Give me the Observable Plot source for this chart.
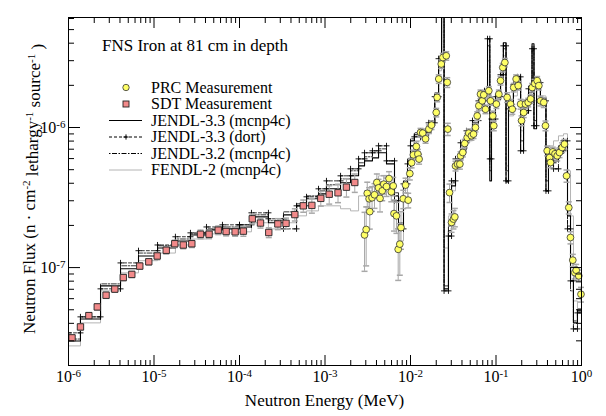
<!DOCTYPE html>
<html><head><meta charset="utf-8">
<script src="https://cdn.jsdelivr.net/npm/d3@7"></script>
<script src="https://cdn.jsdelivr.net/npm/@observablehq/plot@0.6"></script>
<style>
body{margin:0;background:#fff;}
#wrap{position:relative;width:606px;height:416px;}
</style></head><body><div id="wrap"></div><script>
// ---- tick values / labels ----
const xMajor = [1e-6, 1e-5, 1e-4, 1e-3, 1e-2, 1e-1, 1];
const xTickLabels = ["10^-6","10^-5","10^-4","10^-3","10^-2","10^-1","10^0"];
const yMajor = [1e-7, 1e-6];
const yTickLabels = ["10^-7","10^-6"];

// ---- SDT measurement ----
const sdtEnergy = [1.10e-6,1.38e-6,1.73e-6,2.17e-6,2.75e-6,3.48e-6,4.37e-6,5.50e-6,6.82e-6,8.69e-6,
1.09e-5,1.39e-5,1.75e-5,2.20e-5,2.77e-5,3.50e-5,4.41e-5,5.64e-5,6.98e-5,8.89e-5,
1.11e-4,1.41e-4,1.76e-4,2.20e-4,2.81e-4,3.50e-4,4.44e-4,5.57e-4,7.02e-4,8.93e-4,
1.12e-3,1.42e-3,1.78e-3,2.23e-3];
const sdtFlux = [3.15e-8,3.77e-8,4.54e-8,5.24e-8,6.35e-8,7.02e-8,8.49e-8,8.94e-8,1.025e-7,1.10e-7,
1.21e-7,1.33e-7,1.48e-7,1.45e-7,1.48e-7,1.73e-7,1.73e-7,1.85e-7,1.81e-7,1.80e-7,
1.82e-7,2.23e-7,2.08e-7,1.78e-7,2.05e-7,2.07e-7,2.39e-7,2.76e-7,2.78e-7,3.12e-7,
3.34e-7,3.42e-7,3.75e-7,4.05e-7];
const sdtErr = [0.05,0.05,0.05,0.05,0.05,0.05,0.05,0.05,0.05,0.05,
0.06,0.06,0.06,0.06,0.06,0.07,0.07,0.07,0.07,0.07,
0.08,0.08,0.08,0.08,0.09,0.09,0.1,0.1,0.12,0.12,
0.15,0.15,0.15,0.15];

// ---- PRC measurement ----
const prcEnergy = [2.90e-3,3.03e-3,3.12e-3,3.28e-3,3.34e-3,3.55e-3,3.79e-3,4.04e-3,4.23e-3,4.40e-3,
4.67e-3,4.87e-3,5.24e-3,5.61e-3,5.96e-3,6.28e-3,6.41e-3,6.85e-3,7.18e-3,7.50e-3,
7.74e-3,8.23e-3,8.75e-3,9.40e-3,9.82e-3,1.03e-2,1.08e-2,1.17e-2,1.22e-2,1.26e-2,
1.31e-2,1.39e-2,1.50e-2,1.64e-2,1.76e-2,2.00e-2,2.05e-2,2.14e-2,2.29e-2,2.39e-2,
2.62e-2,2.69e-2,2.73e-2,2.86e-2,3.02e-2,3.18e-2,3.30e-2,3.36e-2,3.55e-2,3.78e-2,
3.85e-2,4.09e-2,4.31e-2,4.60e-2,4.81e-2,5.16e-2,5.46e-2,5.75e-2,6.03e-2,6.30e-2,
6.59e-2,6.90e-2,7.19e-2,7.53e-2,8.24e-2,8.63e-2,9.18e-2,9.42e-2,0.101,0.108,
0.113,0.120,0.127,0.135,0.148,0.155,0.161,0.172,0.182,0.194,
0.199,0.211,0.221,0.238,0.254,0.265,0.284,0.303,0.317,0.331,
0.362,0.379,0.397,0.423,0.434,0.461,0.490,0.520,0.553,0.594,
0.632,0.668,0.710,0.743,0.791,0.835,0.867,0.929,0.986];
const prcFlux = [1.71e-7,1.87e-7,3.39e-7,3.10e-7,2.51e-7,3.15e-7,3.31e-7,4.05e-7,3.71e-7,3.12e-7,
3.53e-7,3.94e-7,3.79e-7,4.32e-7,3.47e-7,3.83e-7,2.43e-7,2.34e-7,1.35e-7,1.47e-7,
1.93e-7,3.10e-7,3.88e-7,3.03e-7,4.69e-7,5.60e-7,6.38e-7,7.32e-7,6.46e-7,5.95e-7,
9.21e-7,9.12e-7,8.30e-7,9.74e-7,1.04e-6,1.28e-6,1.64e-6,2.22e-6,2.84e-6,3.16e-6,
3.25e-6,2.10e-6,9.74e-7,3.43e-7,2.10e-7,2.22e-7,2.30e-7,5.32e-7,5.48e-7,5.48e-7,
6.28e-7,6.63e-7,7.69e-7,8.48e-7,9.12e-7,8.73e-7,8.97e-7,1.0e-6,1.21e-6,1.43e-6,
1.73e-6,1.55e-6,1.71e-6,1.35e-6,1.83e-6,1.55e-6,1.21e-6,1.03e-6,1.47e-6,1.73e-6,
2.16e-6,2.68e-6,2.91e-6,1.64e-6,1.47e-6,1.35e-6,1.93e-6,2.22e-6,1.99e-6,1.47e-6,
1.12e-6,1.28e-6,1.47e-6,1.51e-6,1.60e-6,1.93e-6,2.06e-6,2.16e-6,1.99e-6,1.55e-6,
1.51e-6,1.03e-6,6.82e-7,6.10e-7,5.62e-7,6.70e-7,6.49e-7,6.28e-7,6.63e-7,7.20e-7,
7.61e-7,4.52e-7,2.68e-7,1.64e-7,1.13e-7,9.21e-8,9.58e-8,8.73e-8,6.45e-8];
const prcErr = [0.45,0.45,0.2,0.2,0.25,0.2,0.2,0.15,0.15,0.2,
0.15,0.15,0.15,0.12,0.15,0.15,0.25,0.25,0.4,0.4,
0.3,0.15,0.12,0.12,0.1,0.08,0.08,0.08,0.08,0.08,
0.07,0.07,0.07,0.07,0.07,0.07,0.07,0.07,0.07,0.07,
0.07,0.08,0.1,0.15,0.15,0.15,0.15,0.08,0.08,0.08,
0.07,0.07,0.07,0.07,0.07,0.07,0.07,0.07,0.07,0.07,
0.07,0.07,0.07,0.07,0.07,0.07,0.08,0.08,0.07,0.07,
0.07,0.07,0.07,0.08,0.08,0.08,0.07,0.07,0.07,0.08,
0.08,0.08,0.07,0.07,0.07,0.07,0.07,0.07,0.07,0.08,
0.08,0.08,0.08,0.08,0.08,0.08,0.08,0.08,0.08,0.08,
0.08,0.1,0.1,0.1,0.1,0.1,0.1,0.1,0.12];

// ---- calculations: group edges (MeV) and group fluxes ----
const binEdges = [1.0e-6,1.38e-6,2.37e-6,4.06e-6,6.59e-6,1.10e-5,1.78e-5,2.67e-5,4.11e-5,6.32e-5,
1.0e-4,1.38e-4,2.18e-4,3.27e-4,4.65e-4,6.08e-4,8.40e-4,1.04e-3,1.52e-3,1.99e-3,
2.47e-3,2.90e-3,3.59e-3,4.23e-3,5.24e-3,6.50e-3,7.24e-3,8.28e-3,9.23e-3,1.0e-2,
1.11e-2,1.31e-2,1.63e-2,1.92e-2,2.13e-2,2.31e-2,2.47e-2,2.78e-2,3.02e-2,3.36e-2,
3.85e-2,4.52e-2,5.31e-2,6.24e-2,7.33e-2,7.96e-2,8.46e-2,8.86e-2,9.86e-2,0.113,
0.122,0.131,0.140,0.160,0.178,0.194,0.210,0.240,0.264,0.278,
0.298,0.331,0.384,0.411,0.471,0.538,0.616,0.686,0.744,0.805,
0.897,1.0];
const jendl33Mcnp = [2.99e-8,4.30e-8,7.40e-8,9.8e-8,1.21e-7,1.38e-7,1.55e-7,1.71e-7,1.86e-7,1.89e-7,
1.95e-7,2.30e-7,2.09e-7,2.38e-7,2.76e-7,3.10e-7,3.36e-7,3.65e-7,4.03e-7,4.52e-7,
5.32e-7,5.78e-7,6.07e-7,6.60e-7,5.50e-7,3.25e-7,1.95e-7,3.96e-7,5.78e-7,8.03e-7,
8.87e-7,9.17e-7,1.08e-6,1.68e-6,2.90e-6,1.12e-5,7.05e-8,1.83e-7,3.83e-7,5.60e-7,
7.04e-7,8.72e-7,1.08e-6,1.45e-6,1.77e-6,4.30e-6,4.16e-7,1.12e-6,1.60e-6,2.34e-6,
4.03e-6,4.09e-7,1.36e-6,1.89e-6,2.23e-6,6.82e-7,1.27e-6,1.77e-6,3.96e-6,9.79e-7,
2.09e-6,1.55e-6,3.53e-7,5.97e-7,5.78e-7,6.82e-7,7.65e-7,2.34e-7,8.04e-8,4.03e-8,
4.91e-8];
const jendl33Dort = [3.42e-8,4.45e-8,7.05e-8,1.08e-7,1.32e-7,1.45e-7,1.66e-7,1.77e-7,1.95e-7,2.02e-7,
2.02e-7,2.46e-7,2.23e-7,1.89e-7,2.76e-7,3.20e-7,3.65e-7,4.16e-7,4.52e-7,5.07e-7,
5.97e-7,6.60e-7,6.82e-7,7.40e-7,5.78e-7,3.00e-7,1.89e-7,3.96e-7,5.50e-7,7.40e-7,
8.58e-7,9.17e-7,1.08e-6,1.66e-6,3.10e-6,1.32e-5,6.82e-8,1.68e-7,4.16e-7,5.97e-7,
7.78e-7,9.47e-7,1.12e-6,1.55e-6,1.83e-6,4.30e-6,5.97e-7,1.15e-6,1.66e-6,2.38e-6,
3.83e-6,4.16e-7,1.36e-6,2.02e-6,2.30e-6,6.82e-7,1.32e-6,1.89e-6,3.65e-6,1.03e-6,
2.09e-6,1.55e-6,3.53e-7,5.60e-7,5.07e-7,6.82e-7,8.03e-7,1.89e-7,8.04e-8,3.65e-8,
4.75e-8];
const jendl32Mcnp = [3.09e-8,4.45e-8,7.65e-8,1.03e-7,1.27e-7,1.43e-7,1.60e-7,1.74e-7,1.89e-7,1.95e-7,
2.02e-7,2.38e-7,2.16e-7,2.50e-7,2.85e-7,3.25e-7,3.53e-7,3.90e-7,4.30e-7,4.91e-7,
5.60e-7,6.18e-7,6.60e-7,7.04e-7,5.78e-7,3.42e-7,2.09e-7,4.16e-7,5.97e-7,8.30e-7,
9.17e-7,9.47e-7,1.12e-6,1.77e-6,2.99e-6,1.21e-5,7.40e-8,1.98e-7,4.03e-7,5.78e-7,
7.40e-7,9.17e-7,1.12e-6,1.50e-6,1.83e-6,3.83e-6,4.91e-7,1.21e-6,1.68e-6,2.46e-6,
3.65e-6,4.91e-7,1.43e-6,1.99e-6,2.34e-6,8.03e-7,1.36e-6,1.89e-6,3.53e-6,1.12e-6,
2.16e-6,1.60e-6,4.16e-7,6.28e-7,6.28e-7,7.40e-7,8.03e-7,1.98e-7,6.82e-8,4.16e-8,
5.07e-8];
const fendl2Mcnp = [2.76e-8,4.03e-8,6.82e-8,9.17e-8,1.12e-7,1.27e-7,1.45e-7,1.60e-7,1.74e-7,1.77e-7,
1.80e-7,2.09e-7,1.89e-7,2.09e-7,2.34e-7,2.54e-7,2.76e-7,2.76e-7,2.63e-7,2.54e-7,
3.25e-7,3.53e-7,3.83e-7,4.52e-7,3.83e-7,2.34e-7,1.55e-7,3.00e-7,4.91e-7,6.82e-7,
8.03e-7,8.30e-7,1.03e-6,1.55e-6,2.54e-6,9.47e-6,1.38e-7,2.34e-7,3.53e-7,5.32e-7,
6.60e-7,8.03e-7,1.03e-6,1.32e-6,1.60e-6,2.99e-6,8.03e-7,1.15e-6,1.55e-6,2.16e-6,
3.25e-6,5.32e-7,1.21e-6,1.68e-6,1.99e-6,9.47e-7,1.32e-6,1.83e-6,2.54e-6,1.55e-6,
1.99e-6,1.68e-6,6.82e-7,7.40e-7,8.03e-7,8.72e-7,9.02e-7,4.91e-7,2.34e-7,5.78e-8,
4.91e-8];

// ---- build tables ----
function steps(vals){
  const pts = [];
  vals.forEach((v,i) => { pts.push({E: binEdges[i], F: v}); pts.push({E: binEdges[i+1], F: v}); });
  return pts;
}
const sdt = sdtEnergy.map((E,i) => ({E, F: sdtFlux[i], lo: sdtFlux[i]*(1-sdtErr[i]), hi: sdtFlux[i]*(1+sdtErr[i])}));
const prc = prcEnergy.map((E,i) => ({E, F: prcFlux[i], lo: prcFlux[i]*(1-prcErr[i]), hi: prcFlux[i]*(1+prcErr[i])}));
const sFendl = steps(fendl2Mcnp), s32 = steps(jendl32Mcnp), sDort = steps(jendl33Dort), s33 = steps(jendl33Mcnp);

const xMinor = [], yMinor = [];
for (let e = -6; e < 0; e++) for (let m = 2; m <= 9; m++) xMinor.push(m * Math.pow(10, e));
for (let m = 2; m <= 9; m++) yMinor.push(m * 1e-8);
for (let m = 2; m <= 9; m++) yMinor.push(m * 1e-7);
for (let m = 2; m <= 6; m++) yMinor.push(m * 1e-6);

const cap = {draw(ctx, size){ const w = Math.sqrt(size/Math.PI); ctx.moveTo(-w,0); ctx.lineTo(w,0); }};
const errGray = "#a8a8a8";
const lbl = (arr, labels) => d => labels[arr.indexOf(d)];

const plot = Plot.plot({
  width: 606, height: 416,
  marginLeft: 68, marginRight: 25, marginTop: 17, marginBottom: 51,
  style: {fontFamily: "'Liberation Serif', 'Times New Roman', serif", fontSize: "16px", color: "#000", background: "#fff", overflow: "visible"},
  x: {type: "log", domain: [1e-6, 1]},
  y: {type: "log", domain: [2e-8, 6.1e-6]},
  marks: [
    Plot.line(sFendl, {x: "E", y: "F", stroke: "#b4b4b4", strokeWidth: 1, clip: true}),
    Plot.line(s32, {x: "E", y: "F", stroke: "#000", strokeWidth: 0.8, strokeDasharray: "1.5,1.5,5,1.5", clip: true}),
    Plot.line(sDort, {x: "E", y: "F", stroke: "#000", strokeWidth: 0.8, strokeDasharray: "3,2", clip: true}),
    Plot.dot(sDort, {x: "E", y: "F", symbol: "plus", r: 2.1, stroke: "#000", strokeWidth: 0.9, clip: true}),
    Plot.line(s33, {x: "E", y: "F", stroke: "#000", strokeWidth: 1.1, clip: true}),
    // error bars
    Plot.ruleX(sdt, {x: "E", y1: "lo", y2: "hi", stroke: errGray, strokeWidth: 1}),
    Plot.dot(sdt, {x: "E", y: "lo", symbol: cap, r: 3, stroke: errGray}),
    Plot.dot(sdt, {x: "E", y: "hi", symbol: cap, r: 3, stroke: errGray}),
    Plot.ruleX(prc, {x: "E", y1: "lo", y2: "hi", stroke: errGray, strokeWidth: 1}),
    Plot.dot(prc, {x: "E", y: "lo", symbol: cap, r: 3, stroke: errGray}),
    Plot.dot(prc, {x: "E", y: "hi", symbol: cap, r: 3, stroke: errGray}),
    // measurements
    Plot.dot(sdt, {x: "E", y: "F", symbol: "square", r: 3.6, fill: "#f28a8a", stroke: "#222", strokeWidth: 0.9}),
    Plot.dot(prc, {x: "E", y: "F", symbol: "circle", r: 3.4, fill: "#ffff66", stroke: "#333", strokeWidth: 0.8}),
    // ticks (inward) on four sides
    Plot.axisX(xMajor, {anchor: "bottom", tickSize: -10, tickFormat: () => "", label: null}),
    Plot.axisX(xMinor, {anchor: "bottom", tickSize: -5, tickFormat: () => "", label: null}),
    Plot.axisX(xMajor, {anchor: "top", tickSize: -10, tickFormat: () => "", label: null}),
    Plot.axisX(xMinor, {anchor: "top", tickSize: -5, tickFormat: () => "", label: null}),
    Plot.axisY(yMajor, {anchor: "left", tickSize: -12, tickFormat: () => "", label: null}),
    Plot.axisY(yMinor, {anchor: "left", tickSize: -6, tickFormat: () => "", label: null}),
    Plot.axisY(yMajor, {anchor: "right", tickSize: -12, tickFormat: () => "", label: null}),
    Plot.axisY(yMinor, {anchor: "right", tickSize: -6, tickFormat: () => "", label: null}),
    // tick labels
    Plot.axisX(xMajor, {anchor: "bottom", tickSize: 0, tickPadding: 5, tickFormat: lbl(xMajor, xTickLabels), label: null, fontSize: 16}),
    Plot.axisY(yMajor, {anchor: "left", tickSize: 0, tickPadding: 3, tickFormat: lbl(yMajor, yTickLabels), label: null, fontSize: 16}),
    Plot.frame({stroke: "#000", strokeWidth: 1})
  ]
});

// superscripts in tick labels
d3.select(plot).selectAll("text").each(function(){
  const m = /^10\^(-?\d+)$/.exec(this.textContent);
  if (!m) return;
  const t = d3.select(this);
  t.text(null);
  t.append("tspan").text("10");
  t.append("tspan").attr("dy", "-0.45em").attr("font-size", "11px").text(m[1]);
});

const svg = d3.select(plot);
const serif = "'Liberation Serif', 'Times New Roman', serif";
// axis titles
svg.append("text").attr("x", 324.5).attr("y", 406).attr("text-anchor", "middle")
  .attr("font-family", serif).attr("font-size", 17).text("Neutron Energy (MeV)");
const yt = svg.append("text").attr("transform", "translate(35,189) rotate(-90)").attr("text-anchor", "middle")
  .attr("font-family", serif).attr("font-size", 17);
const parts = [["Neutron Flux (n \u00b7 cm", 0], ["-2", 1], [" lethargy", 0], ["-1", 1], [" source", 0], ["-1", 1], [" )", 0]];
let up = false;
for (const [s, sup] of parts) {
  const ts = yt.append("tspan").text(s);
  if (sup && !up) { ts.attr("dy", "-0.45em").attr("font-size", "11px"); up = true; }
  else if (!sup && up) { ts.attr("dy", "0.45em"); up = false; }
}

// title and legend inside the frame
const g = svg.append("g").attr("font-family", serif).attr("text-anchor", "start");
g.append("text").attr("x", 102).attr("y", 51).attr("font-size", 17).attr("text-anchor", "start").text("FNS Iron at 81 cm in depth");
const rows = [
  {name: "PRC Measurement", kind: "circle"},
  {name: "SDT Measurement", kind: "square"},
  {name: "JENDL-3.3 (mcnp4c)", kind: "solid"},
  {name: "JENDL-3.3 (dort)", kind: "dort"},
  {name: "JENDL-3.2 (mcnp4c)", kind: "dashdot"},
  {name: "FENDL-2 (mcnp4c)", kind: "gray"}
];
rows.forEach((r, i) => {
  const y = 87.5 + i * 16.5;
  if (r.kind === "circle") g.append("circle").attr("cx", 126).attr("cy", y).attr("r", 3.2).attr("fill", "#ffff66").attr("stroke", "#333").attr("stroke-width", 0.8);
  else if (r.kind === "square") g.append("rect").attr("x", 123).attr("y", y - 3).attr("width", 6).attr("height", 6).attr("fill", "#f28a8a").attr("stroke", "#222").attr("stroke-width", 0.9);
  else {
    const ln = g.append("line").attr("x1", 109).attr("x2", 142).attr("y1", y).attr("y2", y).attr("stroke", r.kind === "gray" ? "#b4b4b4" : "#000").attr("stroke-width", 1);
    if (r.kind === "dort") { ln.attr("stroke-dasharray", "3,2");
      g.append("path").attr("d", `M${126-2.6},${y}H${126+2.6}M126,${y-2.6}V${y+2.6}`).attr("stroke", "#000"); }
    if (r.kind === "dashdot") ln.attr("stroke-dasharray", "1.5,1.5,5,1.5");
  }
  g.append("text").attr("x", 151).attr("y", y).attr("dy", "0.33em").attr("font-size", 16).attr("text-anchor", "start").text(r.name);
});

document.getElementById("wrap").appendChild(plot);
</script></body></html>
